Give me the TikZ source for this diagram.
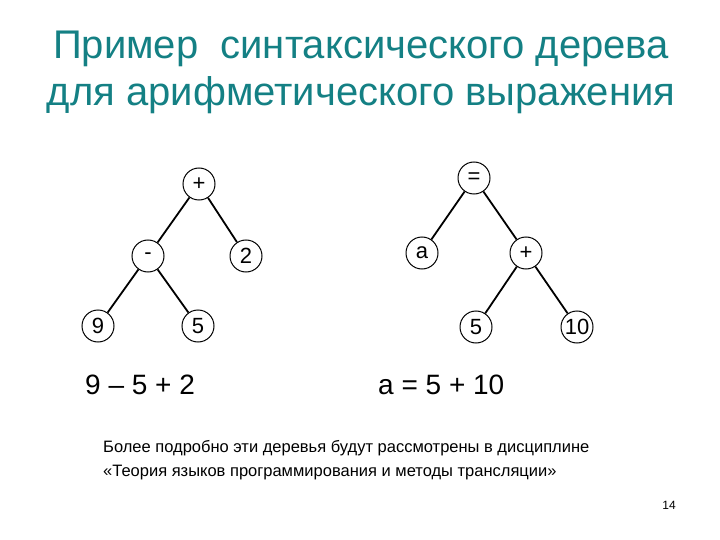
\documentclass[tikz,border=0pt]{standalone}
\usepackage{fontspec}
\setmainfont{Liberation Sans}
\usepackage{xcolor}
\definecolor{titleteal}{RGB}{20,128,132}
\tikzset{
	vertex/.style={circle, draw, line width=1pt, minimum size=32pt, inner sep=0pt,
			font=\fontsize{22}{22}\selectfont},
	branch/.style={line width=1.8pt}
}

\begin{document}
\begin{tikzpicture}[x=1pt,y=-1pt]
        \useasboundingbox (0,0) rectangle (720,540);
        \node[text=titleteal, align=center, font=\fontsize{40}{47}\selectfont] (title) at (361,72)
            {Пример\ \ синтаксического дерева\\для арифметического выражения};
        % left tree
        \node[vertex] (plus) at (199,184) {+};
        \node[vertex] (minus) at (148,256) {-};
        \node[vertex] (two) at (246,256) {2};
        \node[vertex] (nine) at (98,326) {9};
        \node[vertex] (five) at (198,326) {5};
        \draw[branch] (nine) -- (minus) -- (plus) -- (two)
        (minus) -- (five);
        % right tree
        \node[vertex] (eq) at (474,178) {=};
        \node[vertex] (var) at (422,253) {a};
        \node[vertex] (sum) at (526,253) {+};
        \node[vertex] (fiveb) at (476,327) {5};
        \node[vertex] (ten) at (577,327) {10};
        \draw[branch] (var) -- (eq) -- (sum) -- (fiveb)
        (sum) -- (ten);
        \node[anchor=west, inner sep=0pt, font=\fontsize{28}{28}\selectfont] (exprl) at (85,385) {9 – 5 + 2};
        \node[anchor=west, inner sep=0pt, font=\fontsize{28}{28}\selectfont] (exprr) at (378,385) {a = 5 + 10};
        \node[anchor=west, inner sep=0pt, align=left, font=\fontsize{16.5}{24}\selectfont] (note) at (103,460)
            {Более подробно эти деревья будут рассмотрены в дисциплине\\«Теория языков программирования и методы трансляции»};
        \node[inner sep=0pt, font=\fontsize{12}{12}\selectfont] (page) at (669,505) {14};
    \end{tikzpicture}
\end{document}
